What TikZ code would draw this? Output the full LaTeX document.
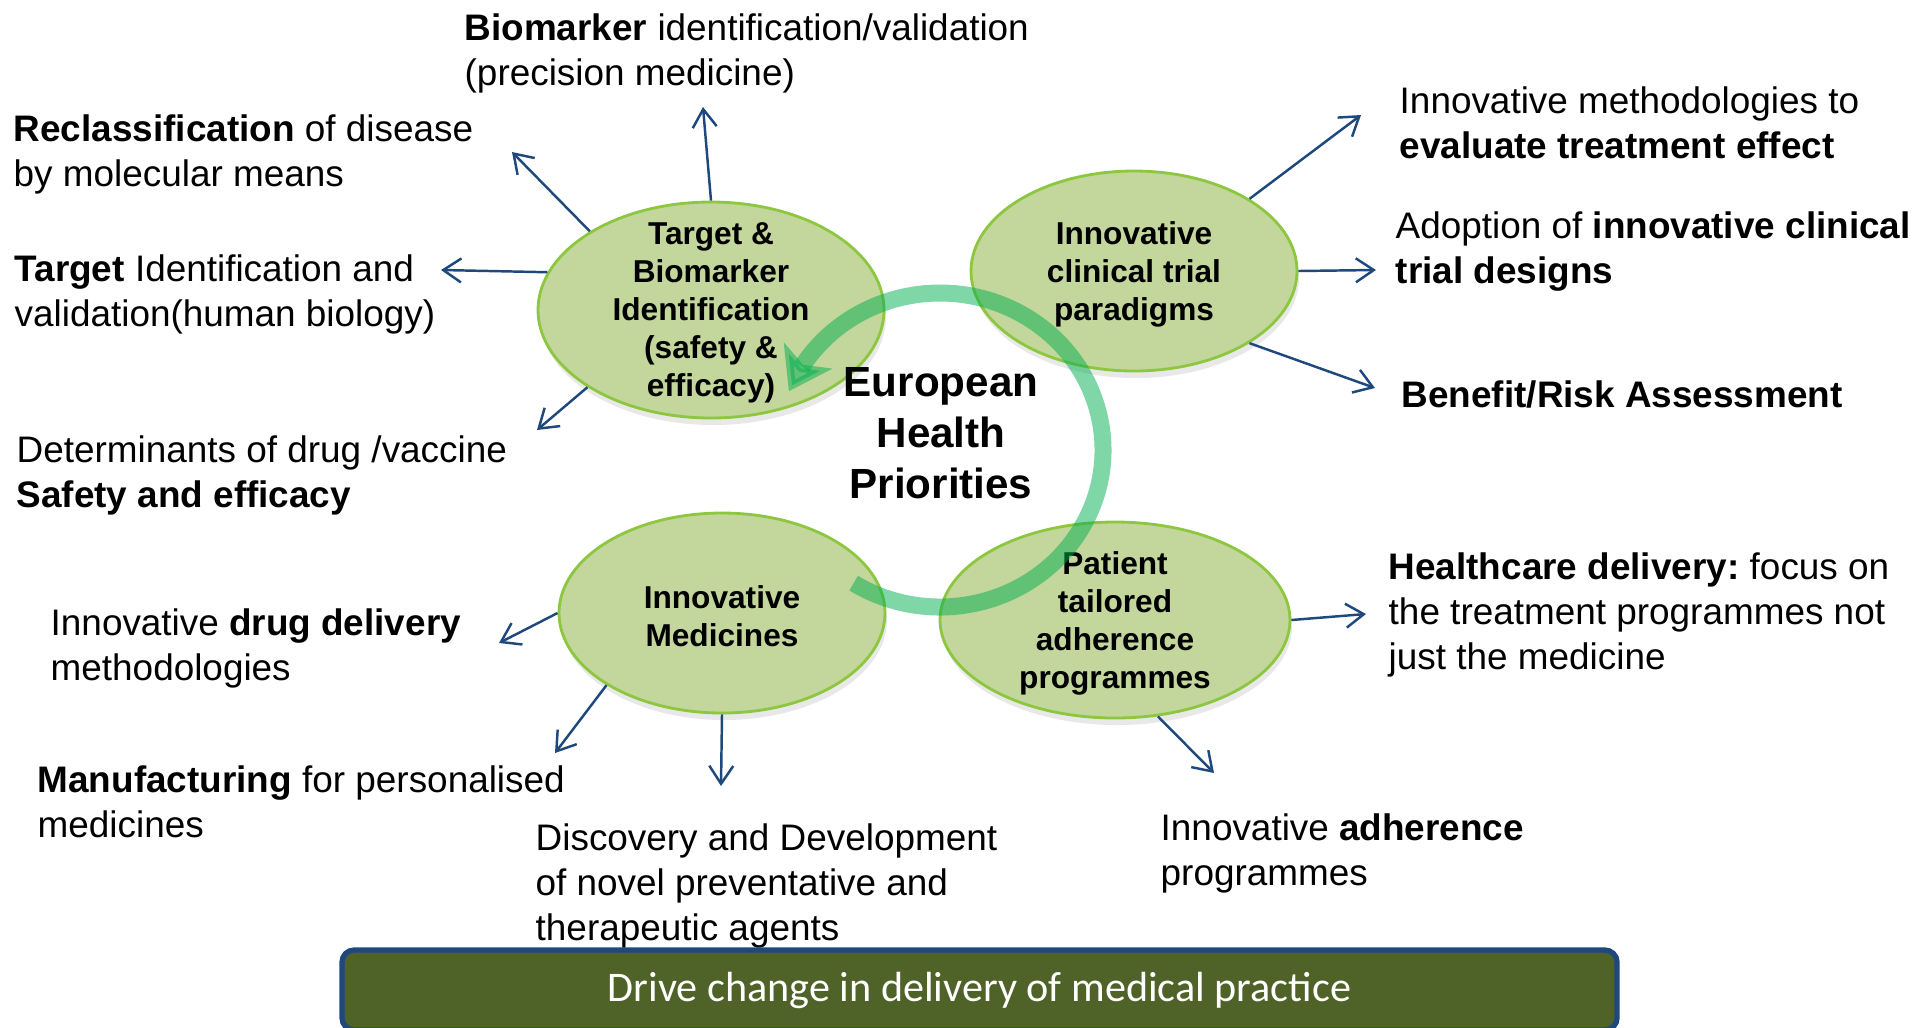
\documentclass[tikz,border=0pt]{standalone}
\usepackage{fontspec}
\setmainfont{Liberation Sans}
\newfontfamily\barfont{Carlito}
\usepackage{tikz}
\usetikzlibrary{arrows.meta,bending,shapes.geometric,shadows}
\definecolor{blobfill}{HTML}{C3D69B}
\definecolor{blobline}{HTML}{8DC63F}
\definecolor{linkblue}{HTML}{1F497D}
\definecolor{cycgreen}{HTML}{00B050}
\definecolor{barfill}{HTML}{4F6228}
\frenchspacing

\begin{document}
\begin{tikzpicture}[
  blob/.style={ellipse, draw=blobline, fill=blobfill, line width=0.8pt, inner sep=0pt,
    drop shadow={shadow xshift=0.2mm, shadow yshift=-0.7mm, opacity=0.18}},
  blobtxt/.style={align=center, inner sep=0pt, yshift=-0.3mm, font=\bfseries\fontsize{9}{10.8}\selectfont},
  lbl/.style={anchor=west, align=left, inner sep=0pt, font=\fontsize{10.5}{12.8}\selectfont},
  arr/.style={-{Straight Barb[length=1.8mm, width=2.4mm]}, draw=linkblue, line width=0.7pt},
  cyc/.style={-{Stealth[length=4mm, width=5.4mm, inset=1mm]}, draw=cycgreen,
    opacity=0.5, line width=1.7mm},
  banner/.style={draw=linkblue, line width=1.5pt, fill=barfill, rounded corners=1.2mm,
    text=white, font=\barfont\fontsize{12}{14}\selectfont}]
\useasboundingbox (0,0) rectangle (19.17,-10.27);
\node[blob, minimum width=3.46cm, minimum height=2.16cm] (target) at (7.11,-3.10) {};
\node[blob, minimum width=3.26cm, minimum height=2cm] (trials) at (11.34,-2.71) {};
\node[blob, minimum width=3.26cm, minimum height=2cm] (medicines) at (7.22,-6.13) {};
\node[blob, minimum width=3.5cm, minimum height=1.96cm] (adherence) at (11.15,-6.20) {};
\node[blobtxt] (target-t) at (target) {Target \&\\Biomarker\\Identification\\(safety \&\\efficacy)};
\node[blobtxt] (trials-t) at (trials) {Innovative\\clinical trial\\paradigms};
\node[blobtxt] (medicines-t) at (medicines) {Innovative\\Medicines};
\node[blobtxt] (adherence-t) at (adherence) {Patient\\tailored\\adherence\\programmes};
\node[align=center, inner sep=0pt, font=\bfseries\fontsize{12}{14.6}\selectfont] (hub) at (9.41,-4.33)
  {European\\Health\\Priorities};
\coordinate (ring) at (9.40,-4.50);
\draw[cyc] ([shift={(-122:1.63 and 1.57)}]ring) arc[start angle=-122, end angle=158, x radius=1.63, y radius=1.57];
\node[lbl] (bio) at (4.64,-0.53) {\textbf{Biomarker} identification/validation\\(precision medicine)};
\node[lbl] (recl) at (0.13,-1.545) {\textbf{Reclassification} of disease\\by molecular means};
\node[lbl] (tgt) at (0.14,-2.94) {\textbf{Target} Identification and\\validation(human biology)};
\node[lbl] (det) at (0.16,-4.755) {Determinants of drug /vaccine\\\textbf{Safety and efficacy}};
\node[lbl] (meth) at (13.99,-1.225) {Innovative methodologies to\\\textbf{evaluate treatment effect}};
\node[lbl] (adopt) at (13.95,-2.515) {Adoption of \textbf{innovative clinical}\\\textbf{trial designs}};
\node[lbl] (ben) at (14.01,-3.94) {\textbf{Benefit/Risk Assessment}};
\node[lbl] (health) at (13.88,-6.15) {\textbf{Healthcare delivery:} focus on\\the treatment programmes not\\just the medicine};
\node[lbl] (drug) at (0.50,-6.48) {Innovative \textbf{drug delivery}\\methodologies};
\node[lbl] (manu) at (0.37,-8.02) {\textbf{Manufacturing} for personalised\\medicines};
\node[lbl] (disc) at (5.35,-8.855) {Discovery and Development\\of novel preventative and\\therapeutic agents};
\node[lbl] (adh) at (11.60,-8.535) {Innovative \textbf{adherence}\\programmes};
\coordinate (tBio) at (7.03,-1.07);
\coordinate (tRecl) at (5.12,-1.52);
\coordinate (tTgt) at (4.41,-2.70);
\coordinate (tDet) at (5.37,-4.30);
\coordinate (tMeth) at (13.61,-1.15);
\coordinate (tAdopt) at (13.76,-2.70);
\coordinate (tBen) at (13.75,-3.88);
\coordinate (tDrug) at (4.99,-6.43);
\coordinate (tManu) at (5.55,-7.53);
\coordinate (tDisc) at (7.21,-7.86);
\coordinate (tHealth) at (13.66,-6.14);
\coordinate (tAdh) at (12.14,-7.73);
\foreach \u/\v in {target.90/tBio, target.147/tRecl, target.167/tTgt, target.212/tDet,
  trials.32/tMeth, trials.0/tAdopt, trials.328/tBen, medicines.180/tDrug, medicines.212/tManu,
  medicines.270/tDisc, adherence.0/tHealth, adherence.294/tAdh} \draw[arr] (\u) -- (\v);
\node[banner, minimum width=12.75cm, minimum height=0.8cm] (drive) at (9.795,-9.90)
  {Drive change in delivery of medical practice};
\end{tikzpicture}
\end{document}
